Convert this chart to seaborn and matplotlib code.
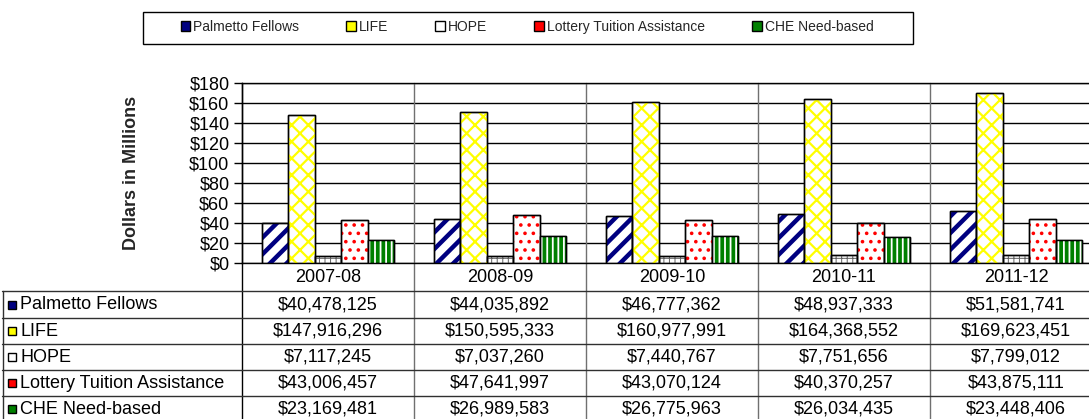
import numpy as np
import pandas as pd
import matplotlib
matplotlib.use("Agg")
import matplotlib.pyplot as plt
import matplotlib.transforms as mtransforms
import seaborn as sns
from matplotlib.patches import Rectangle, Patch
from matplotlib.lines import Line2D

# ---------------- data ----------------
years = ["2007-08", "2008-09", "2009-10", "2010-11", "2011-12"]
programs = ["Palmetto Fellows", "LIFE", "HOPE",
            "Lottery Tuition Assistance", "CHE Need-based"]
palmetto = [40478125, 44035892, 46777362, 48937333, 51581741]
life = [147916296, 150595333, 160977991, 164368552, 169623451]
hope = [7117245, 7037260, 7440767, 7751656, 7799012]
lottery = [43006457, 47641997, 43070124, 40370257, 43875111]
che = [23169481, 26989583, 26775963, 26034435, 23448406]
y_ticks = [0, 20, 40, 60, 80, 100, 120, 140, 160, 180]

series = [palmetto, life, hope, lottery, che]

# ---------------- styles ----------------
fills = ["#FFFFFF", "#FFFFFF", "#FFFFFF", "#FFFFFF", "#008000"]
hatches = ["//", "xx", "+++", "..", "|||"]
hatch_colors = ["#000080", "#FFFF00", "#606060", "#FF0000", "#FFFFFF"]
hatch_lws = [3.2, 1.6, 0.7, 1.4, 1.3]
key_colors = ["#000080", "#FFFF00", "#FFFFFF", "#FF0000", "#008000"]

W, H = 1089, 419
sns.set_theme(style="white")
plt.rcParams["font.family"] = ["Liberation Sans", "DejaVu Sans"]

fig = plt.figure(figsize=(W / 100, H / 100), dpi=100)
fig.patch.set_facecolor("white")


def fx(px):
    return px / W


def fy(py):
    return 1 - py / H


ax = fig.add_axes([fx(242), fy(263), (1102 - 242) / W, 180 / H])

rows = []
for prog, vals in zip(programs, series):
    for yr, v in zip(years, vals):
        rows.append({"Year": yr, "Program": prog, "Millions": v / 1e6})
df = pd.DataFrame(rows)

sns.barplot(data=df, x="Year", y="Millions", hue="Program",
            order=years, hue_order=programs, palette=fills,
            width=0.77, gap=0, saturation=1, edgecolor="black",
            linewidth=1, legend=False, ax=ax, zorder=3)

for i, cont in enumerate(ax.containers):
    for bar in cont:
        with plt.rc_context({"hatch.linewidth": hatch_lws[i]}):
            hp = Rectangle(bar.get_xy(), bar.get_width(), bar.get_height(),
                           facecolor="none", edgecolor=hatch_colors[i],
                           hatch=hatches[i], lw=0, zorder=3.1)
        if hasattr(hp, "set_hatch_linewidth"):
            hp.set_hatch_linewidth(hatch_lws[i])
        ax.add_patch(hp)
        ax.add_patch(Rectangle(bar.get_xy(), bar.get_width(), bar.get_height(),
                               fill=False, edgecolor="black", lw=1, zorder=3.2))

ax.set_xlim(-0.5, len(years) - 0.5)
ax.set_ylim(0, 180)
ax.set_yticks(y_ticks)
ax.set_yticklabels([f"${t}" for t in y_ticks], fontsize=13)
ax.set_xticks([])
ax.set_xlabel("")
ax.set_ylabel("Dollars in Millions", fontsize=13, fontweight="bold")
ax.yaxis.set_label_coords((140 - 242) / (1102 - 242), 0.5)
ax.tick_params(axis="y", direction="out", length=6, width=1, color="black",
               left=True, pad=3, labelcolor="black")
ax.set_axisbelow(True)
ax.yaxis.grid(True, color="black", lw=1)
for s in ["left", "bottom", "top"]:
    ax.spines[s].set_color("black")
    ax.spines[s].set_linewidth(1)
ax.spines["right"].set_visible(False)
ax.set_facecolor("white")

# category separators extending through the table
tbl_frac = -(H + 5 - 263) / 180
for k in range(len(years)):
    ax.axvline(k + 0.5, ymin=tbl_frac, ymax=1, color="#707070", lw=1,
               clip_on=False, zorder=1)
ax.axvline(-0.5, ymin=tbl_frac, ymax=1, color="black", lw=1, clip_on=False)

# table horizontal lines
row_lines = [291, 318, 344, 370, 396]
for py in row_lines:
    fig.add_artist(Line2D([fx(2), 1.0], [fy(py), fy(py)], color="#303030", lw=1))
fig.add_artist(Line2D([fx(2.5), fx(2.5)], [fy(291), fy(H + 5)], color="#303030", lw=1))

blend = mtransforms.blended_transform_factory(ax.transData, ax.transAxes)

# header
for k, yr in enumerate(years):
    ax.text(k, (263 - 277) / 180, yr, ha="center", va="center",
            fontsize=13, color="black", clip_on=False, transform=blend)

row_centers = [304.5, 331, 357, 383, 409]
for i, (prog, vals) in enumerate(zip(programs, series)):
    yc = row_centers[i]
    fig.add_artist(Rectangle((fx(8), fy(yc + 4)), 8 / W, 8 / H,
                             transform=fig.transFigure, facecolor=key_colors[i],
                             edgecolor="black", lw=1))
    fig.text(fx(20), fy(yc), prog, ha="left", va="center", fontsize=13,
             color="black")
    for k, v in enumerate(vals):
        ax.text(k, (263 - yc) / 180, f"${v:,}", ha="center", va="center",
                fontsize=13, color="black", clip_on=False, transform=blend)

# legend
fig.add_artist(Rectangle((fx(143), fy(44)), (913 - 143) / W, 32 / H,
                         transform=fig.transFigure, facecolor="white",
                         edgecolor="black", lw=1))
handles = [Patch(facecolor=c, edgecolor="black", lw=1) for c in key_colors]
fig.legend(handles, programs, ncol=5, loc="center",
           bbox_to_anchor=(fx(527), fy(27)), frameon=False, fontsize=10,
           handlelength=0.7, handleheight=0.7, handletextpad=0.2,
           columnspacing=3.4)

fig.savefig("out.png", dpi=100)
